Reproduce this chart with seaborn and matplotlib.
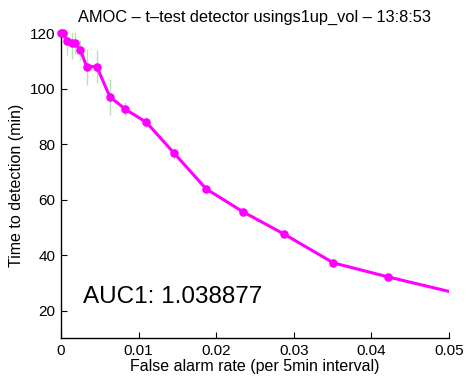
import numpy as np
import pandas as pd
import matplotlib
matplotlib.use("Agg")
import matplotlib.pyplot as plt
import seaborn as sns

# false alarm rate vs. time to detection
far = [0, 0.0003, 0.0008, 0.0014, 0.0018, 0.0025, 0.0033, 0.0046, 0.0063,
       0.0083, 0.0110, 0.0146, 0.0187, 0.0234, 0.0288, 0.0351, 0.0422, 0.0515]
ttd = [120, 120, 117.2, 116.6, 116.6, 114, 108, 108, 97.1,
       92.6, 87.9, 76.7, 63.9, 55.7, 47.5, 37.2, 32.1, 25.9]
err = [1, 2, 5, 6, 4, 3.5, 6.5, 6, 6.5,
       2.5, 2, 2, 1, 1, 0.8, 0.8, 0.8, 0.8]

title = "AMOC \u2013 t\u2013test detector usings1up_vol \u2013 13:8:53"
auc_text = "AUC1: 1.038877"

sns.set_style("ticks")
plt.rcParams["font.family"] = ["Liberation Sans", "DejaVu Sans"]
plt.rcParams["text.color"] = "black"
plt.rcParams["axes.labelcolor"] = "black"
plt.rcParams["xtick.color"] = "black"
plt.rcParams["ytick.color"] = "black"

df = pd.DataFrame({"far": far, "ttd": ttd})
shown = df[df["far"] <= 0.05]

fig = plt.figure(figsize=(4.66, 3.81), dpi=100)
ax = fig.add_axes([0.1309, 0.1121, 0.8326, 0.8005])

ax.errorbar(far, ttd, yerr=err, fmt="none", ecolor="#b5e3b5", elinewidth=1, zorder=1)
sns.lineplot(data=df, x="far", y="ttd", sort=False, color="#ff00ff", lw=2.2, ax=ax, zorder=3)
sns.scatterplot(data=shown, x="far", y="ttd", color="#ff00ff", s=38, linewidth=0,
                ax=ax, zorder=4, clip_on=False)

ax.set_xlim(0, 0.05)
ax.set_ylim(10, 120)
ax.set_xticks([0, 0.01, 0.02, 0.03, 0.04, 0.05])
ax.set_xticklabels(["0", "0.01", "0.02", "0.03", "0.04", "0.05"])
ax.set_yticks([20, 40, 60, 80, 100, 120])
ax.tick_params(direction="in", length=4, width=0.8, labelsize=11, pad=4)
for s in ["top", "right"]:
    ax.spines[s].set_visible(False)
for s in ["left", "bottom"]:
    ax.spines[s].set_linewidth(1)
    ax.spines[s].set_color("black")

ax.set_xlabel("False alarm rate (per 5min interval)", fontsize=11.5, labelpad=1, color="black")
ax.set_ylabel("Time to detection (min)", fontsize=11.5, labelpad=4, color="black")
ax.set_title(title, fontsize=11.8, pad=8, color="black")
ax.text(0.00285, 25, auc_text, fontsize=17.5, ha="left", va="center", color="black")

fig.savefig("out.png", dpi=100)
